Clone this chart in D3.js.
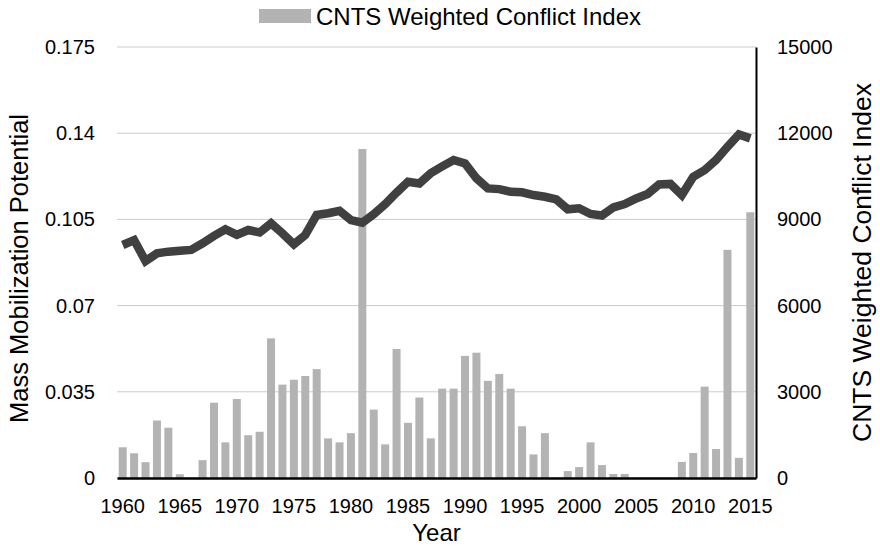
<!DOCTYPE html>
<html>
<head>
<meta charset="utf-8">
<script src="https://cdn.jsdelivr.net/npm/d3@7"></script>
<style>
  body { margin: 0; background: #fff; }
  text { font-family: "Liberation Sans", Arial, sans-serif; fill: #000; }
</style>
</head>
<body>
<svg width="880" height="546"></svg>
<script>
var years = d3.range(1960, 2016);

// CNTS weighted conflict index (bars, right axis)
var cnts = [1070, 860, 550, 2000, 1750, 130, 0, 620, 2620, 1240,
            2750, 1490, 1610, 4860, 3250, 3420, 3550, 3790, 1380, 1240,
            1560, 11450, 2380, 1170, 4490, 1920, 2800, 1380, 3110, 3110,
            4250, 4360, 3380, 3620, 3110, 1800, 820, 1560, 0, 240,
            380, 1240, 450, 140, 140, 0, 0, 0, 0, 560,
            870, 3180, 1010, 7940, 700, 9250];

// mass mobilization potential (line, left axis)
var mmp = [0.0946, 0.0966, 0.0881, 0.0912, 0.0919, 0.0923, 0.0926, 0.0953, 0.0983, 0.1010,
           0.0987, 0.1007, 0.0997, 0.1034, 0.0993, 0.0949, 0.0987, 0.1068, 0.1075, 0.1085,
           0.1047, 0.1037, 0.1071, 0.1112, 0.1159, 0.1203, 0.1196, 0.1238, 0.1265, 0.1291,
           0.1277, 0.1217, 0.1176, 0.1173, 0.1162, 0.1160, 0.1149, 0.1142, 0.1131, 0.1091,
           0.1095, 0.1072, 0.1066, 0.1099, 0.1112, 0.1135, 0.1153, 0.1192, 0.1194, 0.1149,
           0.1223, 0.1250, 0.1291, 0.1345, 0.1395, 0.1379];

var leftTicks = [0, 0.035, 0.07, 0.105, 0.14, 0.175];
var rightTicks = [0, 3000, 6000, 9000, 12000, 15000];
var yearTicks = [1960, 1965, 1970, 1975, 1980, 1985, 1990, 1995, 2000, 2005, 2010, 2015];

var margin = {left: 117, right: 124, top: 47, bottom: 68};
var width = 880 - margin.left - margin.right;
var height = 546 - margin.top - margin.bottom;

var svg = d3.select("svg");
var g = svg.append("g").attr("transform", "translate(" + margin.left + "," + margin.top + ")");

var x = d3.scaleBand().domain(years).range([0, width]).paddingInner(0.3).paddingOuter(0.15);
var yL = d3.scaleLinear().domain([0, 0.175]).range([height, 0]);
var yR = d3.scaleLinear().domain([0, 15000]).range([height, 0]);

// gridlines
g.selectAll(".grid")
    .data(leftTicks)
    .enter()
    .append("line")
    .attr("x1", 0).attr("x2", width)
    .attr("y1", function(d) { return yL(d); })
    .attr("y2", function(d) { return yL(d); })
    .attr("stroke", "#cbcbcb")
    .attr("stroke-width", 1);

// bars
g.selectAll(".bar")
    .data(cnts)
    .enter()
    .append("rect")
    .attr("x", function(d, i) { return x(years[i]); })
    .attr("width", x.bandwidth())
    .attr("y", function(d) { return yR(d); })
    .attr("height", function(d) { return height - yR(d); })
    .attr("fill", "#b3b3b3");

// line
var line = d3.line()
    .x(function(d, i) { return x(years[i]) + x.bandwidth() / 2; })
    .y(function(d) { return yL(d); });

g.append("path")
    .datum(mmp)
    .attr("d", line)
    .attr("fill", "none")
    .attr("stroke", "#404040")
    .attr("stroke-width", 8.5)
    .attr("stroke-linejoin", "miter");

// axes
var xAxis = g.append("g")
    .attr("transform", "translate(0," + height + ")")
    .call(d3.axisBottom(x).tickValues(yearTicks).tickSize(0).tickPadding(21));
xAxis.select(".domain").attr("stroke", "#000").attr("stroke-width", 2.5);

var leftAxis = g.append("g")
    .call(d3.axisLeft(yL).tickValues(leftTicks).tickSize(0).tickPadding(22)
        .tickFormat(function(d) { return d === 0 ? "0" : d3.format("")(d); }));
leftAxis.select(".domain").remove();

var rightAxis = g.append("g")
    .attr("transform", "translate(" + width + ",0)")
    .call(d3.axisRight(yR).tickValues(rightTicks).tickSize(0).tickPadding(21)
        .tickFormat(d3.format("d")));
rightAxis.select(".domain").attr("stroke", "#000").attr("stroke-width", 2);

svg.selectAll(".tick text")
    .style("font-family", "Liberation Sans, Arial, sans-serif")
    .style("font-size", "20px")
    .attr("fill", "#000");

// axis titles
svg.append("text")
    .attr("transform", "translate(28," + (margin.top + height / 2 + 6) + ") rotate(-90)")
    .attr("text-anchor", "middle")
    .style("font-size", "25.5px")
    .text("Mass Mobilization Potential");

svg.append("text")
    .attr("transform", "translate(871," + (margin.top + height / 2) + ") rotate(-90)")
    .attr("text-anchor", "middle")
    .style("font-size", "26.5px")
    .text("CNTS Weighted Conflict Index");

svg.append("text")
    .attr("x", margin.left + width / 2)
    .attr("y", 541)
    .attr("text-anchor", "middle")
    .style("font-size", "24px")
    .text("Year");

// legend
var legend = svg.append("g");
legend.append("rect")
    .attr("x", 259).attr("y", 9)
    .attr("width", 52).attr("height", 14)
    .attr("fill", "#b3b3b3");
legend.append("text")
    .attr("x", 316).attr("y", 25)
    .style("font-size", "24px")
    .text("CNTS Weighted Conflict Index");
</script>
</body>
</html>
